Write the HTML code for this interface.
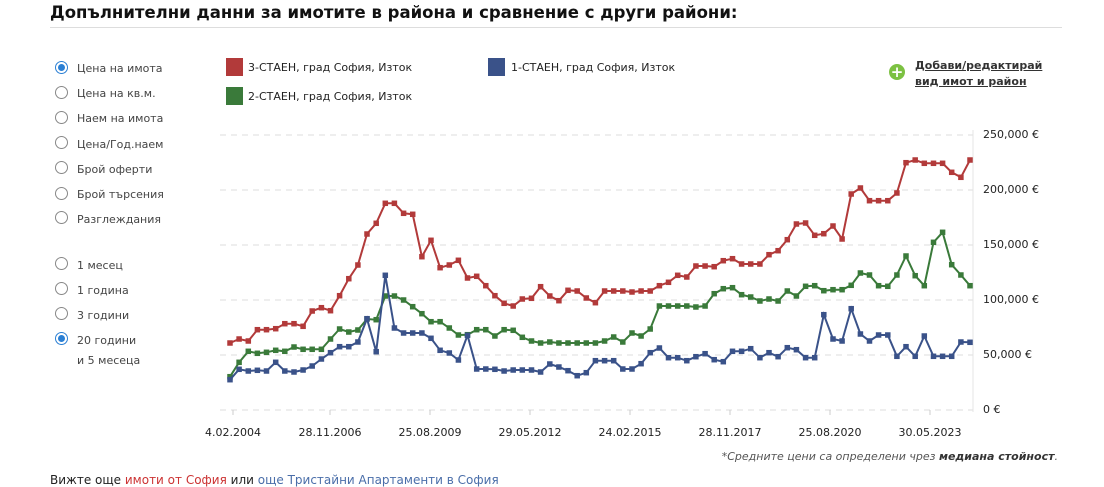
<!DOCTYPE html>
<html><head><meta charset="utf-8">
<style>
body{margin:0;width:1104px;height:480px;overflow:hidden;background:#fff;font-family:"DejaVu Sans","Liberation Sans",sans-serif;color:#333;position:relative}
.a{position:absolute;white-space:nowrap}
.t{left:50px;top:3px;font-size:16.5px;font-weight:bold;color:#111}
.hr{left:50px;top:27px;width:1012px;height:1px;background:#ddd}
.r{font-size:11px;color:#444}
.rb{position:absolute;left:55px;width:11px;height:11px;border:1px solid #888;border-radius:50%;background:#fff}
.rb.on::after{content:"";position:absolute;left:2px;top:2px;width:7px;height:7px;border-radius:50%;background:#2a7fd4}
.rb.on{border-color:#2a7fd4}
.sq{position:absolute;width:17px;height:18px}
.lg{font-size:11px;color:#222}
.yl{font-size:11px;color:#222;left:983px}
.xl{font-size:11px;color:#222;top:426px;transform:translateX(-50%)}
</style></head><body>
<div class="a t">Допълнителни данни за имотите в района и сравнение с други райони:</div>
<div class="a hr"></div>

<div class="rb on" style="top:61px"></div><div class="a r" style="left:77px;top:62px">Цена на имота</div>
<div class="rb" style="top:86px"></div><div class="a r" style="left:77px;top:87px">Цена на кв.м.</div>
<div class="rb" style="top:111px"></div><div class="a r" style="left:77px;top:112px">Наем на имота</div>
<div class="rb" style="top:136px"></div><div class="a r" style="left:77px;top:138px">Цена/Год.наем</div>
<div class="rb" style="top:161px"></div><div class="a r" style="left:77px;top:163px">Брой оферти</div>
<div class="rb" style="top:187px"></div><div class="a r" style="left:77px;top:188px">Брой търсения</div>
<div class="rb" style="top:211px"></div><div class="a r" style="left:77px;top:213px">Разглеждания</div>
<div class="rb" style="top:257px"></div><div class="a r" style="left:77px;top:259px">1 месец</div>
<div class="rb" style="top:282px"></div><div class="a r" style="left:77px;top:284px">1 година</div>
<div class="rb" style="top:307px"></div><div class="a r" style="left:77px;top:309px">3 години</div>
<div class="rb on" style="top:332px"></div><div class="a r" style="left:77px;top:334px">20 години</div>
<div class="a r" style="left:77px;top:354px">и 5 месеца</div>

<div class="sq" style="left:226px;top:58px;background:#b23a3a"></div><div class="a lg" style="left:248px;top:61px">3-СТАЕН, град София, Изток</div>
<div class="sq" style="left:488px;top:58px;background:#3a5289"></div><div class="a lg" style="left:511px;top:61px">1-СТАЕН, град София, Изток</div>
<div class="sq" style="left:226px;top:87px;background:#3a7a3a"></div><div class="a lg" style="left:248px;top:90px">2-СТАЕН, град София, Изток</div>

<div class="a" style="left:889px;top:64px;width:16px;height:16px;border-radius:50%;background:#7cc142;color:#fff;font-weight:bold;font-size:15px;line-height:16px;text-align:center">+</div>
<div class="a" style="left:915px;top:58px;font-size:11px;font-weight:bold;color:#333;text-decoration:underline;line-height:16px">Добави/редактирай<br>вид имот и район</div>

<div class="a yl" style="top:128px">250,000 €</div>
<div class="a yl" style="top:183px">200,000 €</div>
<div class="a yl" style="top:238px">150,000 €</div>
<div class="a yl" style="top:293px">100,000 €</div>
<div class="a yl" style="top:348px">50,000 €</div>
<div class="a yl" style="top:403px">0 €</div>

<div class="a xl" style="left:233px">4.02.2004</div>
<div class="a xl" style="left:330px">28.11.2006</div>
<div class="a xl" style="left:430px">25.08.2009</div>
<div class="a xl" style="left:530px">29.05.2012</div>
<div class="a xl" style="left:630px">24.02.2015</div>
<div class="a xl" style="left:730px">28.11.2017</div>
<div class="a xl" style="left:830px">25.08.2020</div>
<div class="a xl" style="left:930px">30.05.2023</div>

<div class="a" style="right:46px;top:450px;font-size:11px;font-style:italic;color:#555">*Средните цени са определени чрез <b style="color:#333">медиана стойност</b>.</div>
<div class="a" style="left:50px;top:473px;font-size:12px;color:#222">Вижте още <span style="color:#c33">имоти от София</span> или <span style="color:#4a6ea9">още Тристайни Апартаменти в София</span></div>

<svg class="a" style="left:0;top:0" width="1104" height="480" id="s"></svg>
<script>
var s=document.getElementById('s'),h='';
[135,190,245,300,355,410].forEach(function(y){h+='<line x1="220" x2="973" y1="'+y+'" y2="'+y+'" stroke="#ddd" stroke-dasharray="6,5"/>';});
h+='<line x1="973" x2="973" y1="130" y2="412" stroke="#e4e4e4"/>';
[233,330,430,530,630,730,830,930].forEach(function(x){h+='<line x1="'+x+'" x2="'+x+'" y1="410" y2="415" stroke="#ccc"/>';});
var z2=function(a){return a.map(function(v){return 160+v/3;});};
var z3=function(a){return a.map(function(v){return 120+v/3;});};
var red=z2([549,537,543,509,509,506,491,491,499,453,443,452,407,356,315,222,190,130,130,160,163,290,241,323,315,301,354,349,377,407,430,438,417,415,380,408,422,391,393,414,428]).concat(z3([513,513,513,516,513,513,497,487,466,471,438,438,440,422,416,432,432,432,404,392,359,312,309,346,341,318,357,222,204,242,242,242,219,128,120,130,130,130,157,172,120]));
var green=z2([650,607,574,580,577,571,574,561,568,568,568,537,507,516,510,477,479,408,408,420,440,461,485,485,504,525,524,509,509,528,509,511,532,543,549,546,549,549,549,549,549]).concat(z3([663,651,666,639,648,627,558,558,558,558,561,558,521,506,503,524,531,543,537,543,513,528,499,497,512,509,509,496,459,465,497,499,465,408,467,497,367,337,434,465,497]));
var blue=z2([659,628,633,631,633,607,633,636,630,618,597,578,560,560,546,476,575,346,504,519,519,519,535,571,579,600,526,627,627,628,633,630,630,630,636,612,621,632,647,638,602]).concat(z3([722,722,747,747,731,698,684,713,713,722,710,701,719,725,694,694,686,713,698,710,683,689,713,713,584,657,663,566,642,663,645,645,709,680,709,648,709,709,709,666,667]));
function ser(a,c){var p=a.map(function(y,i){return (230+i*740/(a.length-1)).toFixed(1)+','+y.toFixed(1);});
h+='<polyline fill="none" stroke="'+c+'" stroke-width="2" points="'+p.join(' ')+'"/>';
p.forEach(function(q){var k=q.split(',');h+='<rect x="'+(k[0]-2.75)+'" y="'+(k[1]-2.75)+'" width="5.5" height="5.5" fill="'+c+'"/>';});}
ser(red,'#b23a3a');ser(green,'#3a7a3a');ser(blue,'#3a5289');
s.innerHTML=h;
</script>
</body></html>
